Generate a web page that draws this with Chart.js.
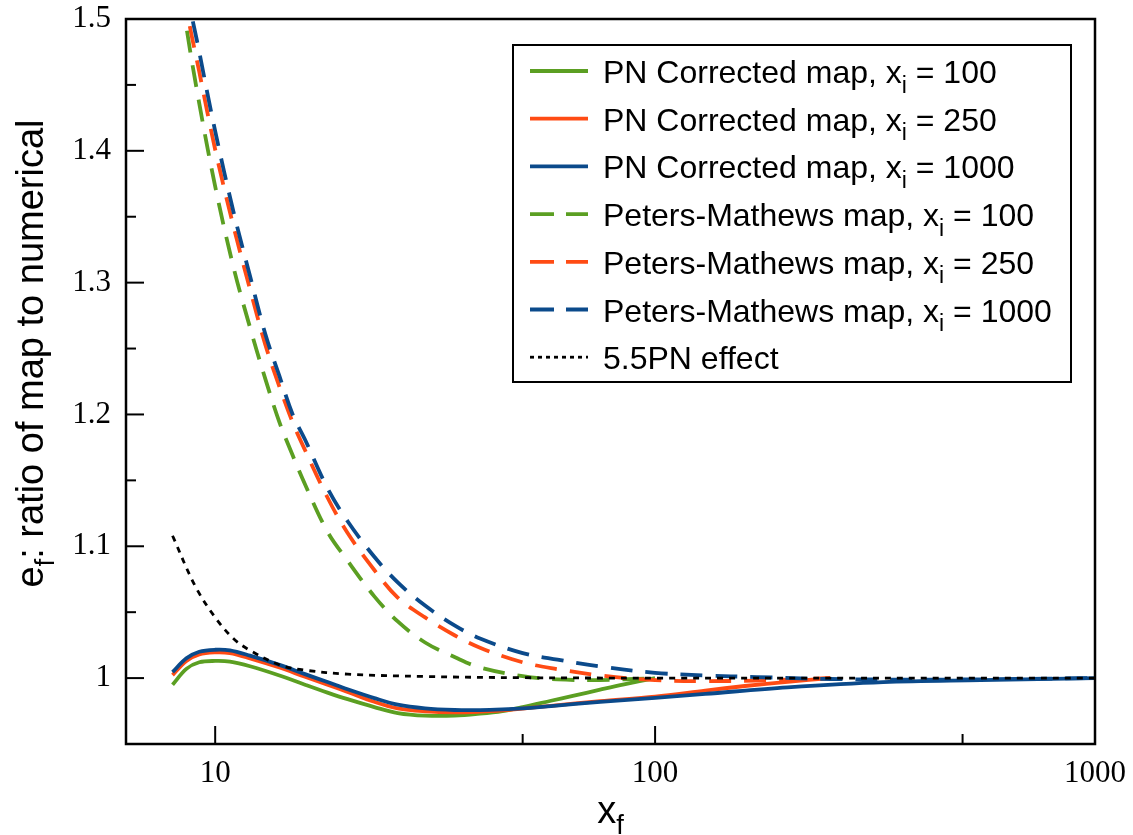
<!DOCTYPE html>
<html>
<head>
<meta charset="utf-8">
<title>Eccentricity ratio of map to numerical</title>
<script src="https://cdn.jsdelivr.net/npm/chart.js@4.4.1/dist/chart.umd.min.js"></script>
<style>
  html, body { margin: 0; padding: 0; background: #fff; }
  canvas { display: block; }
</style>
</head>
<body>
<canvas id="mapChart" width="1133" height="835"></canvas>
<script>
// ---- data: e_f ratio (map / numerical) against x_f ----

// PN corrected map
const xPN100 = [8, 8.6, 9.2, 10, 10.8, 12, 14, 16, 18, 20, 23, 26, 30, 35, 40, 45, 50, 58, 65, 75, 85, 100];
const yPN100 = [0.995, 1.007, 1.012, 1.013, 1.0125, 1.009, 1.002, 0.995, 0.989, 0.984, 0.978, 0.9735, 0.9715, 0.9715, 0.973, 0.975, 0.978, 0.9828, 0.9865, 0.9912, 0.9952, 1.0];

const xPN250 = [8, 8.6, 9.2, 10, 10.8, 12, 14, 16, 18, 20, 23, 26, 30, 35, 40, 45, 50, 58, 75, 100, 130, 160, 200, 250];
const yPN250 = [1.0023, 1.013, 1.018, 1.0195, 1.019, 1.015, 1.008, 1.001, 0.995, 0.9895, 0.982, 0.977, 0.9748, 0.974, 0.9745, 0.9755, 0.9768, 0.979, 0.9825, 0.986, 0.9905, 0.994, 0.9972, 1.0];

const xPN1000 = [8, 8.6, 9.2, 10, 10.8, 12, 14, 16, 18, 20, 23, 26, 30, 35, 40, 45, 50, 58, 75, 100, 130, 200, 330, 550, 1000];
const yPN1000 = [1.0045, 1.015, 1.020, 1.0215, 1.021, 1.017, 1.010, 1.003, 0.997, 0.9915, 0.9848, 0.9798, 0.977, 0.9758, 0.9757, 0.9762, 0.977, 0.9788, 0.982, 0.985, 0.988, 0.993, 0.997, 0.9985, 1.0];

// Peters-Mathews map
const xPM100 = [8, 8.6, 9.2, 10, 11, 12, 13, 14, 15, 16, 18, 20, 23, 26, 30, 35, 40, 50, 60, 75, 100];
const yPM100 = [1.57, 1.494, 1.436, 1.373, 1.312, 1.266, 1.227, 1.194, 1.169, 1.147, 1.111, 1.089, 1.062, 1.043, 1.027, 1.016, 1.008, 1.0015, 0.999, 0.9985, 1.0];

const xPM250 = [8, 8.6, 9.2, 10, 11, 12, 13, 14, 15, 16, 18, 20, 23, 26, 30, 35, 40, 50, 60, 75, 100, 130, 180, 250];
const yPM250 = [1.60, 1.51, 1.46, 1.401, 1.343, 1.295, 1.253, 1.221, 1.194, 1.173, 1.137, 1.110, 1.082, 1.061, 1.046, 1.0325, 1.023, 1.012, 1.0068, 1.002, 0.9985, 0.9977, 0.9983, 1.0];

const xPM1000 = [8, 8.6, 9.2, 10, 11, 12, 13, 14, 15, 16, 18, 20, 23, 26, 30, 35, 40, 50, 60, 75, 100, 130, 170, 250, 400, 600, 1000];
const yPM1000 = [1.63, 1.526, 1.475, 1.415, 1.354, 1.305, 1.261, 1.229, 1.200, 1.181, 1.144, 1.119, 1.092, 1.0726, 1.055, 1.040, 1.030, 1.019, 1.014, 1.0088, 1.004, 1.002, 1.0008, 0.9993, 0.9988, 0.9992, 1.0];

// 5.5PN effect
const x55PN = [8, 9, 10, 11, 12, 14, 16, 20, 30, 50, 100, 1000];
const y55PN = [1.108, 1.070, 1.046, 1.030, 1.021, 1.010, 1.006, 1.003, 1.0012, 1.0003, 1.0, 1.0];

// axis ticks
const xMajorTicks = [10, 100, 1000];
const xMinorTicks = [50, 500];
const yMajorTicks = [1, 1.1, 1.2, 1.3, 1.4, 1.5];
const yMinorTicks = [1.05, 1.15, 1.25, 1.35, 1.45];

const xTitle = 'x_f';
const yTitle = 'e_f: ratio of map to numerical';

const GREEN = '#5b9f22';
const RED = '#ff4b14';
const BLUE = '#0b4a8b';

const DASH = [22, 13];
const DOT = [6, 6];

function points(xs, ys) {
  return xs.map((x, i) => ({ x: x, y: ys[i] }));
}

function series(label, xs, ys, color, dash, width, order) {
  return {
    label: label,
    data: points(xs, ys),
    borderColor: color,
    backgroundColor: color,
    borderWidth: width,
    borderDash: dash,
    borderCapStyle: 'butt',
    pointRadius: 0,
    fill: false,
    tension: 0.35,
    order: order
  };
}

// text with "_c" subscripts, e.g. "x_i = 100"
function drawSubText(ctx, text, x, y, size, align) {
  const runs = [];
  let buf = '';
  for (let i = 0; i < text.length; i++) {
    if (text[i] === '_' && i + 1 < text.length) {
      if (buf) runs.push({ t: buf, sub: false });
      runs.push({ t: text[i + 1], sub: true });
      buf = '';
      i++;
    } else {
      buf += text[i];
    }
  }
  if (buf) runs.push({ t: buf, sub: false });

  const subSize = size * 0.72;
  const font = s => s + 'px "Liberation Sans", Arial, Helvetica, sans-serif';
  let total = 0;
  runs.forEach(r => {
    ctx.font = font(r.sub ? subSize : size);
    r.w = ctx.measureText(r.t).width;
    total += r.w;
  });
  let cx = align === 'center' ? x - total / 2 : x;
  ctx.textAlign = 'left';
  ctx.textBaseline = 'alphabetic';
  runs.forEach(r => {
    ctx.font = font(r.sub ? subSize : size);
    ctx.fillText(r.t, cx, r.sub ? y + size * 0.3 : y);
    cx += r.w;
  });
}

// legend samples use a slightly longer dash than the plotted curves
function legendDash(ds) {
  if (ds.borderDash === DOT) return [4, 4];
  if (ds.borderDash === DASH) return [24, 12];
  return [];
}

// frame, inward ticks, axis titles and the boxed legend
const decorations = {
  id: 'decorations',
  afterDraw(chart) {
    const { ctx, chartArea: a } = chart;
    const xs = chart.scales.x;
    const ys = chart.scales.y;
    ctx.save();
    ctx.strokeStyle = '#000';
    ctx.fillStyle = '#000';

    ctx.lineWidth = 2.5;
    ctx.strokeRect(a.left, a.top, a.right - a.left, a.bottom - a.top);

    ctx.lineWidth = 2;
    const seg = (x1, y1, x2, y2) => {
      ctx.beginPath();
      ctx.moveTo(x1, y1);
      ctx.lineTo(x2, y2);
      ctx.stroke();
    };
    xMajorTicks.forEach(v => { const p = xs.getPixelForValue(v); seg(p, a.bottom, p, a.bottom - 18); });
    xMinorTicks.forEach(v => { const p = xs.getPixelForValue(v); seg(p, a.bottom, p, a.bottom - 10); });
    yMajorTicks.forEach(v => { const p = ys.getPixelForValue(v); seg(a.left, p, a.left + 18, p); });
    yMinorTicks.forEach(v => { const p = ys.getPixelForValue(v); seg(a.left, p, a.left + 10, p); });

    // axis titles
    drawSubText(ctx, xTitle, (a.left + a.right) / 2, 823, 38, 'center');
    ctx.save();
    ctx.translate(43, (a.top + a.bottom) / 2 - 28);
    ctx.rotate(-Math.PI / 2);
    drawSubText(ctx, yTitle, 0, 0, 38, 'center');
    ctx.restore();

    // legend
    const box = { left: 513, top: 45, right: 1071, bottom: 382 };
    ctx.lineWidth = 2;
    ctx.strokeRect(box.left, box.top, box.right - box.left, box.bottom - box.top);
    chart.data.datasets.forEach((ds, i) => {
      const yc = 71 + i * 47.7;
      ctx.save();
      ctx.strokeStyle = ds.borderColor;
      ctx.lineWidth = ds.borderWidth;
      ctx.setLineDash(legendDash(ds));
      seg(530, yc, 588, yc);
      ctx.restore();
      drawSubText(ctx, ds.label, 603, yc + 12, 32, 'left');
    });
    ctx.restore();
  }
};

const tickFont = { family: '"Liberation Serif", "Times New Roman", serif', size: 31 };

new Chart(document.getElementById('mapChart'), {
  type: 'line',
  data: {
    datasets: [
      series('PN Corrected map, x_i = 100', xPN100, yPN100, GREEN, [], 3.8, 7),
      series('PN Corrected map, x_i = 250', xPN250, yPN250, RED, [], 3.8, 6),
      series('PN Corrected map, x_i = 1000', xPN1000, yPN1000, BLUE, [], 3.8, 5),
      series('Peters-Mathews map, x_i = 100', xPM100, yPM100, GREEN, DASH, 3.8, 4),
      series('Peters-Mathews map, x_i = 250', xPM250, yPM250, RED, DASH, 3.8, 3),
      series('Peters-Mathews map, x_i = 1000', xPM1000, yPM1000, BLUE, DASH, 3.8, 2),
      series('5.5PN effect', x55PN, y55PN, '#000', DOT, 2.8, 1)
    ]
  },
  options: {
    responsive: false,
    animation: false,
    events: [],
    layout: { padding: { top: 19, right: 38, bottom: 0, left: 0 } },
    plugins: {
      legend: { display: false },
      tooltip: { enabled: false }
    },
    scales: {
      x: {
        type: 'logarithmic',
        min: 6.27,
        max: 1000,
        grid: { display: false, drawTicks: false },
        border: { display: false },
        afterBuildTicks: s => { s.ticks = xMajorTicks.map(v => ({ value: v })); },
        afterFit: s => {
          s.height = 91;
          s.paddingLeft = 0;
          s.paddingRight = 0;
        },
        ticks: {
          callback: v => String(v),
          font: tickFont,
          color: '#000',
          padding: 11,
          maxRotation: 0,
          autoSkip: false
        }
      },
      y: {
        min: 0.95,
        max: 1.5,
        grid: { display: false, drawTicks: false },
        border: { display: false },
        afterBuildTicks: s => { s.ticks = yMajorTicks.map(v => ({ value: v })); },
        afterFit: s => {
          s.width = 126;
          s.paddingTop = 0;
          s.paddingBottom = 0;
        },
        ticks: {
          callback: v => String(+Number(v).toFixed(2)),
          font: tickFont,
          color: '#000',
          padding: 15,
          autoSkip: false
        }
      }
    }
  },
  plugins: [decorations]
});
</script>
</body>
</html>
